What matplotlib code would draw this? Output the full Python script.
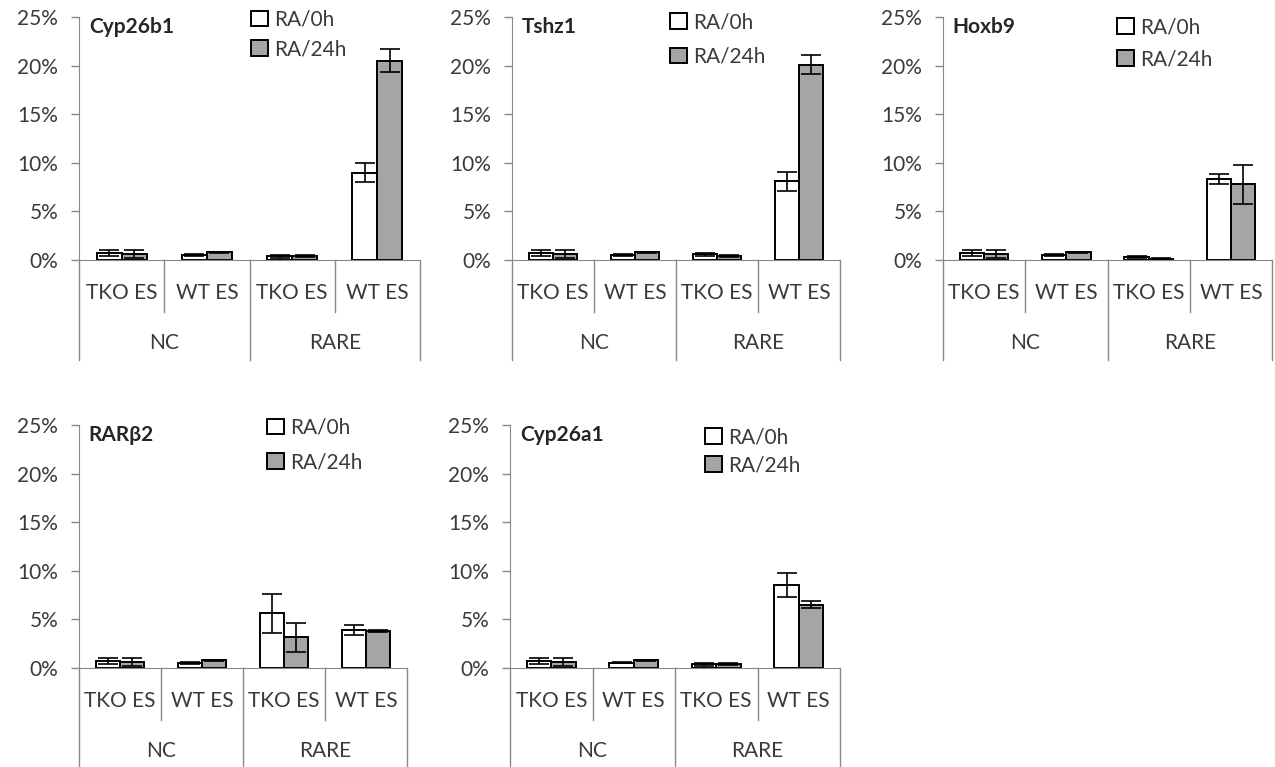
import matplotlib.pyplot as plt
from matplotlib.patches import Patch

# data (percent)
genes = ['Cyp26b1', 'Tshz1', 'Hoxb9', 'RARβ2', 'Cyp26a1']
cells = ['TKO ES', 'WT ES', 'TKO ES', 'WT ES']
groups = ['NC', 'RARE']
series = ['RA/0h', 'RA/24h']

ra0 = {
    'Cyp26b1': [0.7, 0.5, 0.4, 9.0],
    'Tshz1':   [0.7, 0.5, 0.6, 8.1],
    'Hoxb9':   [0.7, 0.5, 0.3, 8.3],
    'RARβ2':   [0.7, 0.5, 5.65, 3.9],
    'Cyp26a1': [0.7, 0.55, 0.4, 8.55],
}
ra0_err = {
    'Cyp26b1': [0.3, 0.1, 0.15, 1.0],
    'Tshz1':   [0.3, 0.1, 0.15, 1.0],
    'Hoxb9':   [0.3, 0.1, 0.1, 0.5],
    'RARβ2':   [0.3, 0.1, 2.0, 0.5],
    'Cyp26a1': [0.3, 0.05, 0.15, 1.2],
}
ra24 = {
    'Cyp26b1': [0.6, 0.8, 0.4, 20.5],
    'Tshz1':   [0.6, 0.8, 0.4, 20.1],
    'Hoxb9':   [0.6, 0.8, 0.15, 7.8],
    'RARβ2':   [0.6, 0.8, 3.15, 3.8],
    'Cyp26a1': [0.6, 0.8, 0.4, 6.5],
}
ra24_err = {
    'Cyp26b1': [0.4, 0.05, 0.1, 1.2],
    'Tshz1':   [0.4, 0.05, 0.1, 1.0],
    'Hoxb9':   [0.4, 0.05, 0.05, 2.0],
    'RARβ2':   [0.4, 0.05, 1.5, 0.1],
    'Cyp26a1': [0.4, 0.05, 0.1, 0.35],
}

# layout in pixels: (left, right, y of 0%, y of 25%), legend anchor, legend spacing
W, H = 1275, 767
panels = [
    (79, 420, 260, 17, (0.505, 1.03), 0.45),
    (512, 840, 260, 17, (0.482, 1.02), 0.70),
    (943, 1272, 260, 17, (0.529, 1.00), 0.60),
    (79, 407, 668, 425, (0.573, 1.03), 0.70),
    (510, 840, 668, 425, (0.591, 0.99), 0.38),
]

plt.rcParams['font.family'] = ['Lato', 'DejaVu Sans']
axis_col = '#898989'
text_col = '#3a3a3a'
gray = '#a5a5a5'
fs = 15

fig = plt.figure(figsize=(W / 100, H / 100), dpi=100)

for gene, (x0, x1, y0, y1, leg_xy, leg_sp) in zip(genes, panels):
    ax = fig.add_axes([x0 / W, 1 - y0 / H, (x1 - x0) / W, (y0 - y1) / H])
    hpx = y0 - y1
    x = [i + 0.5 for i in range(len(cells))]
    bw = 0.294
    xa = [v - bw / 2 for v in x]
    xb = [v + bw / 2 for v in x]
    ax.bar(xa, ra0[gene], bw, color='white', edgecolor='black', linewidth=1.4, zorder=2)
    ax.bar(xb, ra24[gene], bw, color=gray, edgecolor='black', linewidth=1.4, zorder=2)
    ax.errorbar(xa, ra0[gene], yerr=ra0_err[gene], fmt='none', ecolor='black',
                elinewidth=1.2, capsize=7, capthick=1.2, zorder=3)
    ax.errorbar(xb, ra24[gene], yerr=ra24_err[gene], fmt='none', ecolor='black',
                elinewidth=1.2, capsize=7, capthick=1.2, zorder=3)

    ax.set_xlim(0, 4)
    ax.set_ylim(0, 25)
    ax.set_yticks([0, 5, 10, 15, 20, 25])
    ax.set_yticklabels([f'{t}%' for t in [0, 5, 10, 15, 20, 25]])
    ax.set_xticks([])
    ax.tick_params(axis='y', length=6, width=1, color=axis_col, labelcolor=text_col,
                   labelsize=fs, pad=9)
    for s in ['top', 'right']:
        ax.spines[s].set_visible(False)
    ax.spines['left'].set_color(axis_col)
    ax.spines['bottom'].set_color(axis_col)
    ax.spines['left'].set_bounds(0, 25)

    # category axis, two levels
    inner = 52 / hpx
    outer = 100 / hpx
    for xv in [0, 2, 4]:
        ax.plot([xv, xv], [0, -outer], transform=ax.get_xaxis_transform(),
                color=axis_col, lw=1, clip_on=False)
    for xv in [1, 3]:
        ax.plot([xv, xv], [0, -inner], transform=ax.get_xaxis_transform(),
                color=axis_col, lw=1, clip_on=False)
    for xv, lab in zip(x, cells):
        ax.text(xv, -33 / hpx, lab, transform=ax.get_xaxis_transform(),
                ha='center', va='center', fontsize=fs, color=text_col)
    for i, g in enumerate(groups):
        ax.text(1 + 2 * i, -83 / hpx, g, transform=ax.get_xaxis_transform(),
                ha='center', va='center', fontsize=fs, color=text_col)

    ax.text(0.03, 0.96, gene, transform=ax.transAxes, ha='left', va='center',
            fontsize=fs, fontweight='bold', color='#262626')

    handles = [Patch(facecolor='white', edgecolor='black', linewidth=1.4),
               Patch(facecolor=gray, edgecolor='black', linewidth=1.4)]
    ax.legend(handles, series, loc='upper left', bbox_to_anchor=leg_xy, frameon=False,
              handlelength=0.8, handleheight=0.8, handletextpad=0.3,
              labelspacing=leg_sp, fontsize=fs, labelcolor=text_col,
              borderaxespad=0, borderpad=0)

fig.savefig('out.png', dpi=100)
